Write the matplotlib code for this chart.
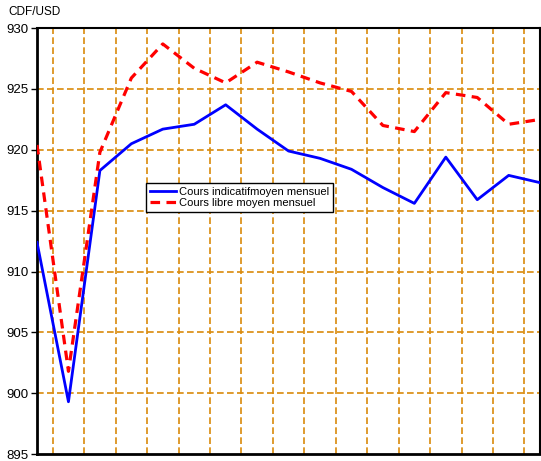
import numpy as np
import matplotlib
matplotlib.use('Agg')
import matplotlib.pyplot as plt

# Monthly CDF/USD rates
months = list(range(17))
cours_indicatif = [912.4, 899.3, 918.3, 920.5, 921.7, 922.1, 923.7, 921.7, 919.9,
                   919.3, 918.4, 916.9, 915.6, 919.4, 915.9, 917.9, 917.3]
cours_libre = [920.4, 901.8, 919.8, 925.9, 928.7, 926.7, 925.5, 927.2, 926.4,
               925.5, 924.8, 922.0, 921.5, 924.7, 924.3, 922.1, 922.5]

y_ticks = [895, 900, 905, 910, 915, 920, 925, 930]

plt.rcParams['font.family'] = ['Liberation Sans Narrow', 'Liberation Sans', 'DejaVu Sans']

fig = plt.figure(figsize=(5.41, 4.61), dpi=100)
ax = fig.add_axes([0.0684, 0.015, 0.93, 0.924])

grid_col = '#D98A0B'
for yv in y_ticks[1:-1]:
    ax.axhline(yv, color=grid_col, lw=1.2, ls=(0, (4, 2)), zorder=1)
for xv in np.arange(0.5, len(months) - 1, 1.0):
    ax.axvline(xv, color=grid_col, lw=1.2, ls=(0, (4, 2)), zorder=1)

ax.plot(months, cours_indicatif, color='#0000FF', lw=2.0,
        label='Cours indicatifmoyen mensuel', zorder=3)
ax.plot(months, cours_libre, color='#FF0000', lw=2.3, ls=(0, (3, 2)),
        label='Cours libre moyen mensuel', zorder=3)

ax.set_xlim(0, len(months) - 1)
ax.set_ylim(895, 930)
ax.set_yticks(y_ticks)
ax.set_xticks([])
ax.tick_params(axis='y', direction='out', length=4, width=1, labelsize=9.5, pad=2)

for side in ['left', 'bottom']:
    ax.spines[side].set_linewidth(2)
for side in ['top', 'right']:
    ax.spines[side].set_linewidth(1.5)

fig.text(0.015, 0.973, 'CDF/USD', fontsize=8.5, ha='left', va='center')

leg = ax.legend(loc='upper left', bbox_to_anchor=(0.217, 0.637), fontsize=8,
                frameon=True, fancybox=False, framealpha=1, edgecolor='black',
                handlelength=2.3, handletextpad=0.3, borderpad=0.35,
                labelspacing=0.1, borderaxespad=0)
leg.get_frame().set_linewidth(1.0)

fig.savefig('out.png', dpi=100)
